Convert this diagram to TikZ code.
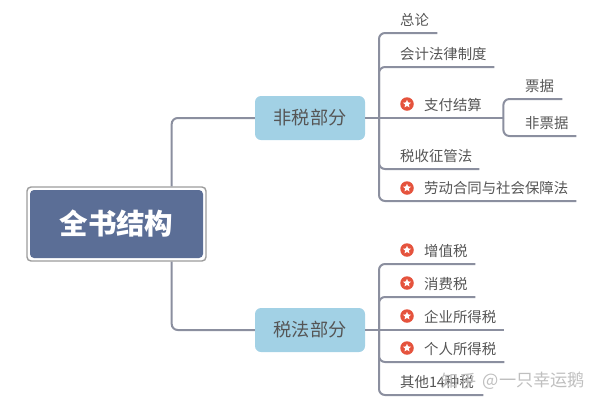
\documentclass[tikz,border=0pt]{standalone}
\usepackage{fontspec}
\setmainfont{Noto Sans CJK SC}
\usetikzlibrary{shapes.geometric}
\definecolor{rootblue}{HTML}{5B6E96}
\definecolor{framegray}{HTML}{9C9C9C}
\definecolor{branchblue}{HTML}{A2D1E5}
\definecolor{linegray}{HTML}{8B8F9F}
\definecolor{textgray}{HTML}{555555}
\definecolor{iconred}{HTML}{E5533D}
\newcommand{\mytreeleaffontsize}{\fontsize{14.4pt}{16pt}\selectfont}
\newcommand{\mytreebranchfontsize}{\fontsize{18.2pt}{20pt}\selectfont}
\newcommand{\mytreerootfontsize}{\fontsize{28.5pt}{30pt}\selectfont\bfseries}
\tikzstyle{rootnode}=[
    rectangle,rounded corners=4,fill=rootblue,text=white,
    minimum width=173,minimum height=68,inner sep=0pt,
    font=\mytreerootfontsize
]
\tikzstyle{rootframe}=[
    rectangle,rounded corners=4,draw=framegray,line width=1.4pt,fill=white,
    minimum width=179,minimum height=74,inner sep=0pt
]
\tikzstyle{branchnode}=[
    rectangle,rounded corners=6,fill=branchblue,text=textgray,
    minimum width=110,minimum height=44,inner sep=0pt,
    font=\mytreebranchfontsize
]
\tikzstyle{leafnode}=[
    rectangle,anchor=south west,inner sep=0pt,minimum height=26,
    text=textgray,align=left,font=\mytreeleaffontsize
]
\tikzstyle{conn}=[
    draw=linegray,line width=2pt,rounded corners=6
]
\tikzstyle{iconnode}=[
    circle,fill=iconred,minimum size=13.5,inner sep=0pt
]
\tikzstyle{iconstar}=[
    star,star points=5,star point ratio=2.2,fill=white,minimum size=8.5,inner sep=0pt
]
\tikzstyle{watermark}=[
    inner sep=0pt,text=black!25,font=\fontsize{17.2pt}{19pt}\selectfont
]

\begin{document}
\begin{tikzpicture}[x=1pt,y=-1pt]
    \useasboundingbox (0,0) rectangle (600,405);

    % nodes
    \node[rootframe] (frame) at (116.5,224) {};
    \node[branchnode] (feishui) at (310,118) {非税部分};
    \node[branchnode] (shuifa) at (310,330) {税法部分};

    \node[leafnode,minimum width=37,text width=37] (zonglun) at (400,33) {总论};
    \node[leafnode,minimum width=94,text width=94] (kuaiji) at (400,67) {会计法律制度};
    \node[leafnode,minimum width=79,text width=79] (zhifu) at (424,118) {支付结算};
    \node[leafnode,minimum width=79,text width=79] (zhengguan) at (400,169) {税收征管法};
    \node[leafnode,minimum width=152,text width=152] (laodong) at (424,201) {劳动合同与社会保障法};
    \node[leafnode,minimum width=37,text width=37] (piaoju) at (525,99) {票据};
    \node[leafnode,minimum width=51,text width=51] (feipiao) at (525,136) {非票据};

    \node[leafnode,minimum width=51,text width=51] (zengzhi) at (424,264) {增值税};
    \node[leafnode,minimum width=51,text width=51] (xiaofei) at (424,297) {消费税};
    \node[leafnode,minimum width=80,text width=80] (qiye) at (424,330) {企业所得税};
    \node[leafnode,minimum width=80,text width=80] (geren) at (424,362) {个人所得税};
    \node[leafnode,minimum width=83,text width=83] (qita) at (400,395) {其他14种税};

    \coordinate (feishuifork) at (379,118);
    \coordinate (shuifafork) at (379,330);

    % edges
    \draw[conn] ([xshift=-35]frame.north east) |- (feishui.west);
    \draw[conn] ([xshift=-35]frame.south east) |- (shuifa.west);

    \draw[conn] (feishui.east) -- (zhifu.south east);
    \draw[conn] (feishuifork) |- (zonglun.south east);
    \draw[conn] (feishuifork) |- (kuaiji.south east);
    \draw[conn] (feishuifork) |- (zhengguan.south east);
    \draw[conn] (feishuifork) |- (laodong.south east);
    \draw[conn] (zhifu.south east) |- (piaoju.south east);
    \draw[conn] (zhifu.south east) |- (feipiao.south east);

    \draw[conn] (shuifa.east) -- (qiye.south east);
    \draw[conn] (shuifafork) |- (zengzhi.south east);
    \draw[conn] (shuifafork) |- (xiaofei.south east);
    \draw[conn] (shuifafork) |- (geren.south east);
    \draw[conn] (shuifafork) |- (qita.south east);

    % root goes over its connectors
    \node[rootnode] (root) at (116.5,224) {全书结构};

    % icons
    \foreach \iconname/\iconpos in {zhifuicon/104,laodongicon/188,zengzhiicon/250,xiaofeiicon/283,qiyeicon/316,gerenicon/348}{
        \node[iconnode] (\iconname) at (407,\iconpos) {};
        \node[iconstar] at (\iconname) {};
    }

    % mark
    \node[watermark] (zhihu) at (459,381) {知乎};
    \node[watermark] (account) at (534,381) {@一只幸运鹅};
\end{tikzpicture}
\end{document}
